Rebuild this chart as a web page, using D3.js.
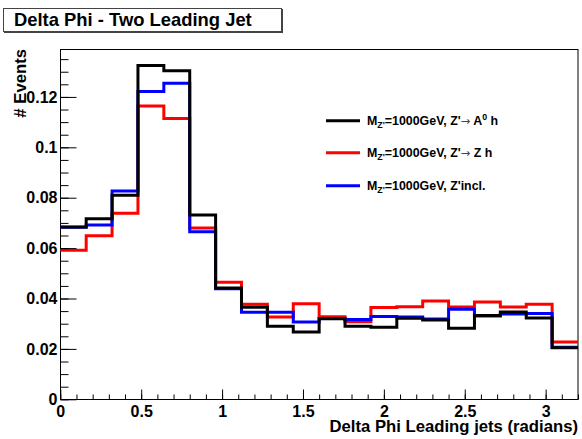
<!DOCTYPE html>
<html><head><meta charset="utf-8">
<script src="https://cdn.jsdelivr.net/npm/d3@7"></script>
<style>body{margin:0;background:#fff}svg{display:block;font-family:"Liberation Sans",Arial,Helvetica,sans-serif;font-weight:bold}</style>
</head><body>
<script>
const binEdges = [0,0.16,0.32,0.48,0.64,0.8,0.96,1.12,1.28,1.44,1.6,1.76,1.92,2.08,2.24,2.4,2.56,2.72,2.88,3.04,3.2];
const seriesNames = ["A0h","Zh","incl"];
const valuesA0h = [0.0684,0.0717,0.0810,0.1325,0.1304,0.0731,0.0442,0.0365,0.0290,0.0267,0.0320,0.0290,0.0286,0.0322,0.0315,0.0282,0.0333,0.0346,0.0323,0.0205];
const valuesZh  = [0.0592,0.0649,0.0738,0.1164,0.1114,0.0680,0.0465,0.0377,0.0327,0.0379,0.0328,0.0308,0.0364,0.0367,0.0390,0.0366,0.0386,0.0366,0.0377,0.0227];
const valuesIncl= [0.0683,0.0692,0.0827,0.1222,0.1254,0.0665,0.0439,0.0345,0.0345,0.0307,0.0321,0.0317,0.0329,0.0327,0.0319,0.0357,0.0331,0.0339,0.0341,0.0207];
const yTicks = [0,0.02,0.04,0.06,0.08,0.1,0.12];
const xTicks = [0,0.5,1,1.5,2,2.5,3];
const colors = {A0h:"#000000", Zh:"#ff0000", incl:"#0000ff"};

const W=582,H=439;
const svg=d3.select("body").append("svg").attr("width",W).attr("height",H);
const x=d3.scaleLinear().domain([0,3.2]).range([60.3,578]);
const y=d3.scaleLinear().domain([0,0.1389]).range([399.3,49.3]);

// title box
svg.append("rect").attr("x",3.5).attr("y",8.5).attr("width",278).attr("height",23).attr("fill","#fff").attr("stroke","#444").attr("stroke-width",1);
svg.append("line").attr("x1",4).attr("x2",282).attr("y1",32.5).attr("y2",32.5).attr("stroke","#444");
svg.append("line").attr("x1",282.5).attr("x2",282.5).attr("y1",9).attr("y2",33).attr("stroke","#444");
svg.append("text").attr("x",14).attr("y",25.5).attr("font-size",18.4).text("Delta Phi - Two Leading Jet");

// frame
svg.append("rect").attr("x",60.5).attr("y",49.5).attr("width",517.5).attr("height",350).attr("fill","none").attr("stroke","#000");

// histograms
const data={A0h:valuesA0h,Zh:valuesZh,incl:valuesIncl};
const line=d3.line().x(d=>x(d[0])).y(d=>y(d[1])).curve(d3.curveStepAfter);
["Zh","incl","A0h"].forEach(k=>{
  const v=data[k];
  const pts=v.map((val,i)=>[binEdges[i],val]);
  pts.push([binEdges[binEdges.length-1],v[v.length-1]]);
  svg.append("path").attr("d",line(pts)).attr("fill","none").attr("stroke",colors[k]).attr("stroke-width",3);
});

// y axis
const yMinor=d3.range(0,0.1389,0.005);
svg.append("g").attr("transform","translate(60.5,0)")
  .call(d3.axisLeft(y).tickValues(yMinor).tickSizeInner(-8).tickSizeOuter(0).tickFormat(""))
  .call(g=>g.select(".domain").remove());
const ya=svg.append("g").attr("transform","translate(60.5,0)")
  .call(d3.axisLeft(y).tickValues(yTicks).tickSizeInner(-16).tickSizeOuter(0).tickPadding(3).tickFormat(d=>d===0?"0":d3.format("")(d)))
  .call(g=>g.select(".domain").remove());
ya.selectAll("text").attr("font-size",16).attr("font-family","Liberation Sans, Arial, sans-serif").attr("font-weight","bold").attr("fill","#000");
ya.selectAll("line").attr("stroke","#000");

// x axis
const xMinor=d3.range(0,3.2001,0.1);
svg.append("g").attr("transform","translate(0,399.5)")
  .call(d3.axisBottom(x).tickValues(xMinor).tickSizeInner(-5).tickSizeOuter(0).tickFormat(""))
  .call(g=>g.select(".domain").remove());
const xa=svg.append("g").attr("transform","translate(0,399.5)")
  .call(d3.axisBottom(x).tickValues(xTicks).tickSizeInner(-10).tickSizeOuter(0).tickPadding(6).tickFormat(d=>String(d)))
  .call(g=>g.select(".domain").remove());
xa.selectAll("text").attr("font-size",16).attr("font-family","Liberation Sans, Arial, sans-serif").attr("font-weight","bold").attr("fill","#000");
xa.selectAll("line").attr("stroke","#000");

// axis titles
svg.append("text").attr("x",578).attr("y",432).attr("text-anchor","end").attr("font-size",16.7).text("Delta Phi Leading jets (radians)");
svg.append("text").attr("transform","translate(26,49) rotate(-90)").attr("text-anchor","end").attr("font-size",16.7).text("# Events");

// legend
const legend=[
  {k:"A0h",y:120.7,parts:[["M",""],["Z'","sub"],["=1000GeV, Z'",""],["\u2192","arrow"],[" A",""],["0","sup"],[" h",""]]},
  {k:"Zh",y:152.7,parts:[["M",""],["Z'","sub"],["=1000GeV, Z'",""],["\u2192","arrow"],[" Z h",""]]},
  {k:"incl",y:185.7,parts:[["M",""],["Z'","sub"],["=1000GeV, Z'incl.",""]]}
];
legend.forEach(L=>{
  svg.append("line").attr("x1",326).attr("x2",360).attr("y1",L.y).attr("y2",L.y).attr("stroke",colors[L.k]).attr("stroke-width",3);
  const t=svg.append("text").attr("x",367).attr("y",L.y+4.5).attr("font-size",12.4);
  L.parts.forEach(([s,kind])=>{
    const ts=t.append("tspan").text(s);
    if(kind==="sub"){ts.attr("font-size",8.8).attr("dy",3);}
    else if(kind==="sup"){ts.attr("font-size",8.8).attr("dy",-5);}
    else if(kind==="arrow"){ts.attr("font-weight","normal").attr("fill","#444").attr("font-family","DejaVu Sans").attr("font-size",11.5);}
  });
  let dyAcc=0;
  t.selectAll("tspan").each(function(d,i){
    const sel=d3.select(this);const kind=L.parts[i][1];
    if(kind==="sub"){dyAcc=3;}
    else if(kind==="sup"){dyAcc=-5;}
    else if(dyAcc!==0){sel.attr("dy",-dyAcc);dyAcc=0;}
  });
});
</script>
</body></html>
